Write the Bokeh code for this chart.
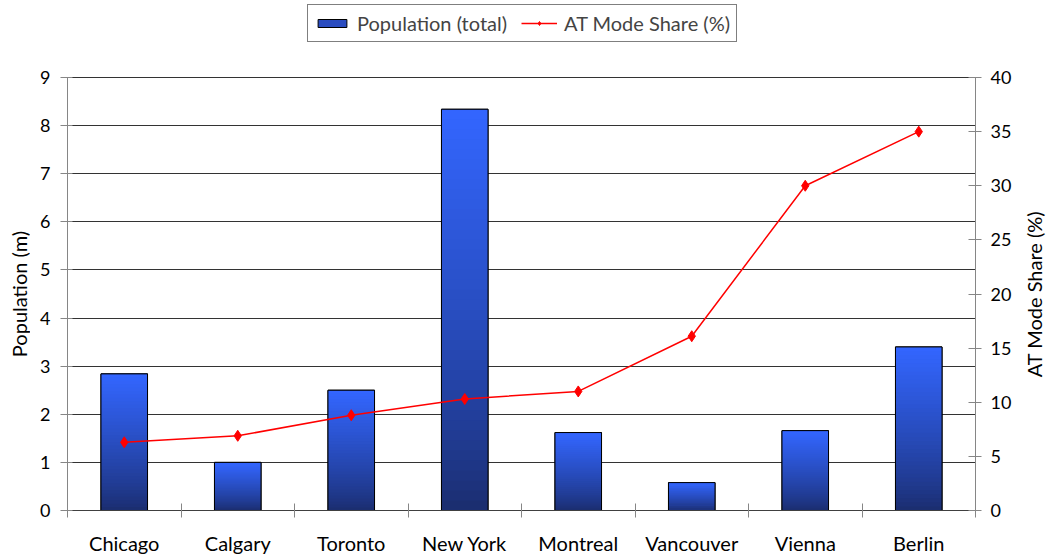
import math
from bokeh.plotting import figure
from bokeh.layouts import row
from bokeh.models import (Range1d, LinearAxis, FixedTicker, SingleIntervalTicker,
                          Legend, LegendItem, ColumnDataSource, Label)
from bokeh.embed import file_html
from bokeh.resources import INLINE

cities = ["Chicago", "Calgary", "Toronto", "New York", "Montreal", "Vancouver", "Vienna", "Berlin"]
population = [2.84, 1.0, 2.50, 8.34, 1.62, 0.58, 1.66, 3.40]
mode_share = [6.3, 6.9, 8.8, 10.3, 11.0, 16.1, 30.0, 35.0]
pop_max, share_max = 9, 40
left_title = "Population (m)"
right_title = "AT Mode Share (%)"

FONT = "Lato"
TXT = "20px"
NUM = "18px"
n = len(cities)
centers = [i + 0.5 for i in range(n)]
bounds = [float(i) for i in range(n + 1)]

# layout constants (pixels)
W, H = 1047, 558
SIDE = 30                       # narrow side strips holding the axis titles
BOTTOM, TOP_AXIS = 48, 77       # x-axis band height, y of the top of the value axes
frame_h = H - BOTTOM
data_h = frame_h - TOP_AXIS
y_end = pop_max * frame_h / data_h
s_end = share_max * frame_h / data_h
# strips share the main frame (row aligns frames): centre of value axes from frame bottom
title_y = frame_h - (TOP_AXIS + frame_h) / 2

main_w = W - 2 * SIDE
p = figure(width=main_w, height=H, x_range=Range1d(0, n), y_range=Range1d(0, y_end),
           output_backend="svg", toolbar_location=None,
           min_border_left=67 - SIDE, min_border_right=W - SIDE - 975,
           min_border_top=0, min_border_bottom=BOTTOM)
p.outline_line_color = None
p.background_fill_color = "white"

# base bars (also used for the legend swatch)
base = p.vbar(x=centers, top=population, width=0.41, fill_color="#2a4cc0",
              line_color="black", line_width=1)

# gradient bars: slice each bar into bands from dark (bottom) to bright (top)
N = 40
dark = (26, 44, 108)
bright = (51, 102, 255)
xs, bots, tops, cols = [], [], [], []
for c, v in zip(centers, population):
    for k in range(N):
        t = (k + 0.5) / N
        t2 = t ** 0.8
        col = tuple(int(round(d + (b - d) * t2)) for d, b in zip(dark, bright))
        xs.append(c)
        bots.append(v * k / N)
        tops.append(min(v, v * (k + 1.6) / N))
        cols.append("#%02x%02x%02x" % col)
grad = ColumnDataSource(dict(x=xs, bottom=bots, top=tops, color=cols))
p.vbar(x="x", bottom="bottom", top="top", width=0.41, fill_color="color",
       line_color=None, source=grad)
p.vbar(x=centers, top=population, width=0.41, fill_alpha=0, line_color="black", line_width=1)

p.extra_y_ranges = {"share": Range1d(0, s_end)}
ln = p.line(centers, mode_share, y_range_name="share", line_color="#ff0000", line_width=1.5)
mk = p.scatter(centers, mode_share, y_range_name="share", marker="diamond", size=11,
               fill_color="#ff0000", line_color="#ff0000")

# axes
grey = "#868686"
xa = p.xaxis[0]
xa.ticker = FixedTicker(ticks=centers, minor_ticks=bounds)
xa.major_label_overrides = {c: name for c, name in zip(centers, cities)}
xa.major_tick_in = 0
xa.major_tick_out = 0
xa.minor_tick_in = 7
xa.minor_tick_out = 7
xa.minor_tick_line_color = grey
xa.axis_line_color = "#404040"
xa.major_label_standoff = 13
xa.major_label_text_font = FONT
xa.major_label_text_font_size = TXT
xa.major_label_text_color = "black"

ya = p.yaxis[0]
ya.bounds = (0, pop_max)
ya.ticker = SingleIntervalTicker(interval=1)
ya.major_tick_in = 5
ya.major_tick_out = 7
ya.minor_tick_out = 0
ya.minor_tick_line_color = None
ya.major_tick_line_color = grey
ya.axis_line_color = grey
ya.major_label_standoff = 10
ya.major_label_text_font = FONT
ya.major_label_text_font_size = NUM
ya.major_label_text_color = "black"

ra = LinearAxis(y_range_name="share", ticker=SingleIntervalTicker(interval=5),
                bounds=(0, share_max))
ra.major_tick_in = 7
ra.major_tick_out = 6
ra.minor_tick_out = 0
ra.minor_tick_line_color = None
ra.major_tick_line_color = grey
ra.axis_line_color = grey
ra.major_label_standoff = 9
ra.major_label_text_font = FONT
ra.major_label_text_font_size = NUM
ra.major_label_text_color = "black"
p.add_layout(ra, "right")

p.xgrid.grid_line_color = None
p.ygrid.grid_line_color = "#333333"
p.ygrid.grid_line_width = 1
p.ygrid.ticker = FixedTicker(ticks=list(range(1, pop_max + 1)))

legend = Legend(items=[LegendItem(label="Population (total)", renderers=[base]),
                       LegendItem(label="AT Mode Share (%)", renderers=[ln, mk])],
                orientation="horizontal", location=(240, 468),
                border_line_color="black", border_line_width=1,
                background_fill_color="white", background_fill_alpha=1,
                glyph_width=36, glyph_height=10, label_standoff=7, spacing=14,
                padding=6, margin=0, label_height=20,
                label_text_font=FONT, label_text_font_size=TXT)
p.add_layout(legend, "center")


def title_strip(text, cx):
    f = figure(width=SIDE, height=H, output_backend="svg", toolbar_location=None,
               x_axis_location=None, y_axis_location=None,
               min_border_left=0, min_border_right=0, min_border_top=0, min_border_bottom=0)
    f.outline_line_color = None
    f.grid.grid_line_color = None
    f.add_layout(Label(x=cx, y=title_y, x_units="screen", y_units="screen", text=text,
                       angle=math.pi / 2, text_align="center", text_baseline="middle",
                       text_font=FONT, text_font_size=TXT, text_color="black"))
    return f


left = title_strip(left_title, 18.5)
right = title_strip(right_title, 16)

layout = row(left, p, right, spacing=0)
open("out.html", "w").write(file_html(layout, INLINE))
